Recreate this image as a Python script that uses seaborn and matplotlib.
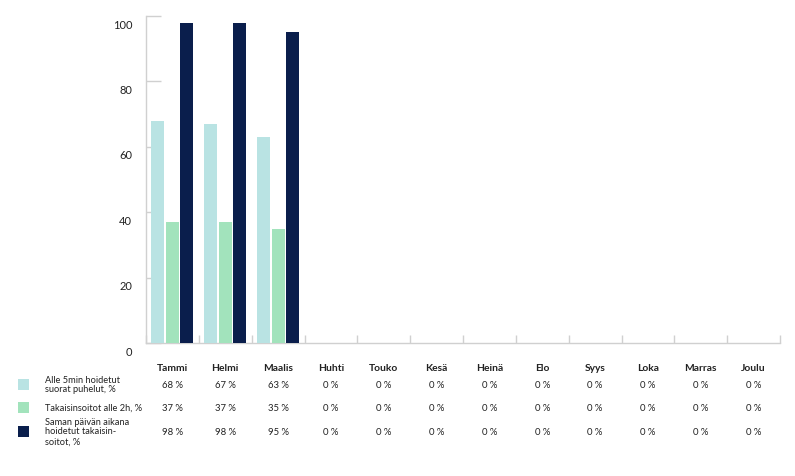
import matplotlib
matplotlib.use("Agg")
import matplotlib.pyplot as plt
import matplotlib.transforms as mtransforms
import numpy as np
import pandas as pd
import seaborn as sns

# ---------------------------------------------------------------------------
# Data
# ---------------------------------------------------------------------------
months = ["Tammi", "Helmi", "Maalis", "Huhti", "Touko", "Kesä", "Heinä",
          "Elo", "Syys", "Loka", "Marras", "Joulu"]
series_names = [
    "Alle 5min hoidetut\nsuorat puhelut, %",
    "Takaisinsoitot alle 2h, %",
    "Saman päivän aikana\nhoidetut takaisin-\nsoitot, %",
]
direct_calls = [68, 67, 63, 0, 0, 0, 0, 0, 0, 0, 0, 0]
callbacks_2h = [37, 37, 35, 0, 0, 0, 0, 0, 0, 0, 0, 0]
callbacks_same_day = [98, 98, 95, 0, 0, 0, 0, 0, 0, 0, 0, 0]
y_ticks = [0, 20, 40, 60, 80, 100]

colors = ["#B9E3E3", "#A2E3BC", "#0A1E4C"]
TEXT = "#222222"
GRID = "#D0D0D0"

df = pd.DataFrame({
    "month": months * 3,
    "series": [s for s in series_names for _ in months],
    "value": direct_calls + callbacks_2h + callbacks_same_day,
})

plt.rcParams["font.family"] = ["Lato", "DejaVu Sans"]

W, H = 795, 477
fig = plt.figure(figsize=(W / 100, H / 100), dpi=100)
x0, x1, y_top, y_bot = 146, 780, 17, 344
ax = fig.add_axes([x0 / W, (H - y_bot) / H, (x1 - x0) / W, (y_bot - y_top) / H])

sns.barplot(data=df, x="month", y="value", hue="series", order=months,
            hue_order=series_names, palette=colors, width=0.82, gap=0.1,
            saturation=1, legend=False, ax=ax, zorder=3)

ax.set_ylim(0, 100)
ax.set_xlim(-0.5, len(months) - 0.5)
ax.set_xlabel("")
ax.set_ylabel("")
for side in ["top", "right"]:
    ax.spines[side].set_visible(False)
for side in ["left", "bottom"]:
    ax.spines[side].set_color(GRID)
    ax.spines[side].set_linewidth(1)

# y ticks: inward, labels nudged below the tick mark
ax.set_yticks(y_ticks)
ax.set_yticklabels([str(t) for t in y_ticks])
ax.tick_params(axis="y", direction="in", length=11, color=GRID, width=1,
               labelsize=8, labelcolor=TEXT, pad=10)
shift = mtransforms.ScaledTranslation(0, -7 / 100, fig.dpi_scale_trans)
for lab in ax.get_yticklabels():
    lab.set_transform(lab.get_transform() + shift)

# x ticks at category boundaries, pointing up, no labels
ax.set_xticks(np.arange(len(months) + 1) - 0.5)
ax.set_xticklabels([])
ax.tick_params(axis="x", direction="in", length=6, color=GRID, width=1)

# ---------------------------------------------------------------------------
# Data table below the chart
# ---------------------------------------------------------------------------
def fy(py):
    return (H - py) / H

centers = x0 + (np.arange(len(months)) + 0.5) * (x1 - x0) / len(months)
for cx, m in zip(centers, months):
    fig.text(cx / W, fy(368), m, ha="center", va="center_baseline",
             fontsize=7.4, fontweight="bold", color=TEXT)

rows = [direct_calls, callbacks_2h, callbacks_same_day]
row_y = [385, 408, 432]
for vals, ry, name, col in zip(rows, row_y, series_names, colors):
    for cx, v in zip(centers, vals):
        fig.text(cx / W, fy(ry), f"{v} %", ha="center", va="center_baseline",
                 fontsize=6.8, color=TEXT)
    fig.text(45 / W, fy(ry), name, ha="left", va="center", fontsize=6.7,
             color=TEXT, linespacing=1.1)
    fig.patches.append(plt.Rectangle((18 / W, fy(ry + 5.5)), 11 / W, 11 / H,
                                     transform=fig.transFigure,
                                     facecolor=col, edgecolor="none"))

fig.savefig("out.png", dpi=100)
